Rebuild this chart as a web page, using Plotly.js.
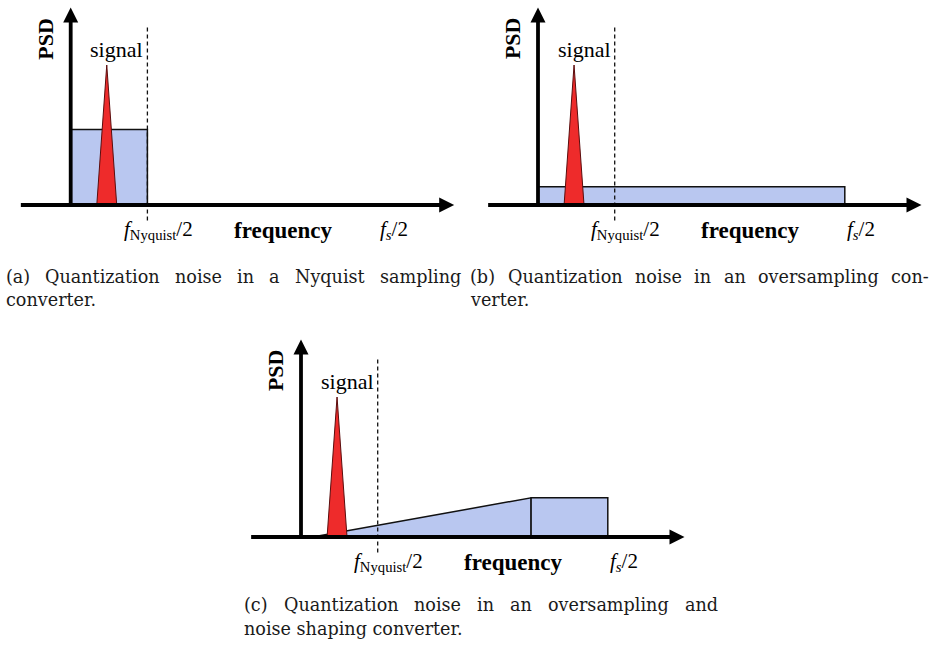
<!DOCTYPE html>
<html><head><meta charset="utf-8">
<script src="https://cdn.plot.ly/plotly-3.0.1.min.js"></script>
<style>html,body{margin:0;padding:0;background:#fff}#chart{width:936px;height:645px}</style>
</head><body><div id="chart"></div>
<script>
// ---- data (frequency in units of f_Nyquist/2, PSD relative to signal peak) ----
const fNyquistHalf = 1;
const fsHalf = 4;
const signalFreq = [0.34, 0.47, 0.60];
const signalPSD = [0, 1.0, 0];
const noiseA_freq = [0, 0, 1, 1];
const noiseA_psd = [0, 0.54, 0.54, 0];
const noiseB_freq = [0, 0, 4, 4];
const noiseB_psd = [0, 0.13, 0.13, 0];
const noiseC_rampFreq = [0.15, 3, 3];
const noiseC_rampPsd = [0, 0.28, 0];
const noiseC_flatFreq = [3, 3, 4, 4];
const noiseC_flatPsd = [0, 0.28, 0.28, 0];
const axisFreqRange = [-0.65, 5.0];
const axisPsdTop = 1.41;
const dashedRange = [-0.11, 1.29];
const tickLabels = ['<i>f</i><sub>Nyquist</sub>/2', 'frequency', '<i>f</i><sub><i>s</i></sub>/2'];
const tickPositions = [fNyquistHalf, 2.77, fsHalf];
const yLabel = 'PSD';
const signalLabel = 'signal';
const captionA = ['(a) Quantization noise in a Nyquist sampling', 'converter.'];
const captionB = ['(b) Quantization noise in an oversampling con-', 'verter.'];
const captionC = ['(c) Quantization noise in an oversampling and', 'noise shaping converter.'];

// ---- layout helpers ----
const W = 936, H = 645, UX = 76.7, UY = 140;
const panels = [
  {id: '', origin: [70.7, 205], box: [0, 468, 0, 250], noise: [[noiseA_freq, noiseA_psd]]},
  {id: '2', origin: [538, 205], box: [468, 936, 0, 250], noise: [[noiseB_freq, noiseB_psd]]},
  {id: '3', origin: [301, 537], box: [230, 710, 322, 590], noise: [[noiseC_rampFreq, noiseC_rampPsd], [noiseC_flatFreq, noiseC_flatPsd]]}
];
const serif = 'Liberation Serif, Times New Roman, serif';
const capFamily = 'DejaVu Serif';
const capSize = 17.6;
const capFont = {family: capFamily + ', serif', size: capSize, color: '#1a1a1a'};

const traces = [];
const annotations = [];
const layout = {width: W, height: H, margin: {l: 0, r: 0, t: 0, b: 0},
  paper_bgcolor: '#fff', plot_bgcolor: 'rgba(0,0,0,0)', showlegend: false};

panels.forEach(p => {
  const xa = 'x' + p.id, ya = 'y' + p.id;
  const [ox, oy] = p.origin, [x0, x1, y0, y1] = p.box;
  const axCommon = {visible: false, fixedrange: true, showgrid: false, zeroline: false};
  layout['xaxis' + p.id] = Object.assign({}, axCommon, {range: [(x0 - ox) / UX, (x1 - ox) / UX], domain: [x0 / W, x1 / W], anchor: ya});
  layout['yaxis' + p.id] = Object.assign({}, axCommon, {range: [(oy - y1) / UY, (oy - y0) / UY], domain: [1 - y1 / H, 1 - y0 / H], anchor: xa});
  p.noise.forEach(n => traces.push({type: 'scatter', mode: 'lines', x: n[0], y: n[1], xaxis: xa, yaxis: ya,
    fill: 'toself', fillcolor: '#b9c7f0', line: {color: '#111', width: 1.5}, hoverinfo: 'skip', cliponaxis: false}));
  traces.push({type: 'scatter', mode: 'lines', x: signalFreq, y: signalPSD, xaxis: xa, yaxis: ya,
    fill: 'toself', fillcolor: '#ee2b2b', line: {color: '#5a0d0d', width: 1}, hoverinfo: 'skip'});
  traces.push({type: 'scatter', mode: 'lines', x: [fNyquistHalf, fNyquistHalf], y: dashedRange, xaxis: xa, yaxis: ya,
    line: {color: '#111', width: 1.3, dash: '4px,3px'}, hoverinfo: 'skip'});
  // axis lines (ending just short of the arrow tips) and arrowheads
  const headX = 10 / UX, headY = 10 / UY;
  traces.push({type: 'scatter', mode: 'lines', x: [axisFreqRange[0], axisFreqRange[1] - headX], y: [0, 0], xaxis: xa, yaxis: ya,
    line: {color: '#000', width: 3.8}, hoverinfo: 'skip'});
  traces.push({type: 'scatter', mode: 'lines', x: [0, 0], y: [-0.013, axisPsdTop - headY], xaxis: xa, yaxis: ya,
    line: {color: '#000', width: 3.8}, hoverinfo: 'skip'});
  traces.push({type: 'scatter', mode: 'markers', x: [axisFreqRange[1], 0], y: [0, axisPsdTop], xaxis: xa, yaxis: ya,
    marker: {symbol: ['arrow-right', 'arrow-up'], size: 15, color: '#000', line: {width: 0}}, hoverinfo: 'skip', cliponaxis: false});
  // labels
  annotations.push({xref: xa, yref: ya, x: -0.33, y: 1.19, text: yLabel, textangle: -90, showarrow: false,
    font: {family: serif, size: 22, color: '#000', weight: 'bold'}});
  annotations.push({xref: xa, yref: ya, x: 0.6, y: 1.11, text: signalLabel, showarrow: false,
    font: {family: serif, size: 22, color: '#000'}});
  const shifts = [11, 0, 16];
  tickLabels.forEach((t, i) => annotations.push({xref: xa, yref: ya, x: tickPositions[i], y: -0.18, xshift: shifts[i],
    text: t, showarrow: false, font: {family: serif, size: i === 1 ? 23 : 21, color: '#000', weight: i === 1 ? 'bold' : 'normal'}}));
});

// captions: first line justified between left and right edges, second line flush left
const ctx = document.createElement('canvas').getContext('2d');
ctx.font = capSize + 'px "' + capFamily + '"';
function caption(lines, left, right, yLine1, yLine2) {
  const words = lines[0].split(' ');
  const widths = words.map(w => ctx.measureText(w).width);
  const gap = (right - left - widths.reduce((a, b) => a + b, 0)) / (words.length - 1);
  let x = left;
  words.forEach((w, i) => {
    annotations.push({xref: 'paper', yref: 'paper', x: x / W, y: 1 - yLine1 / H,
      xanchor: 'left', yanchor: 'middle', text: w, showarrow: false, font: capFont});
    x += widths[i] + gap;
  });
  annotations.push({xref: 'paper', yref: 'paper', x: left / W, y: 1 - yLine2 / H,
    xanchor: 'left', yanchor: 'middle', text: lines[1], showarrow: false, font: capFont});
}
caption(captionA, 4, 459, 277, 300);
caption(captionB, 468, 927, 277, 300);
caption(captionC, 242, 716, 605, 629);

layout.annotations = annotations;
Plotly.newPlot('chart', traces, layout, {displayModeBar: false, staticPlot: true});
</script>
</body></html>
